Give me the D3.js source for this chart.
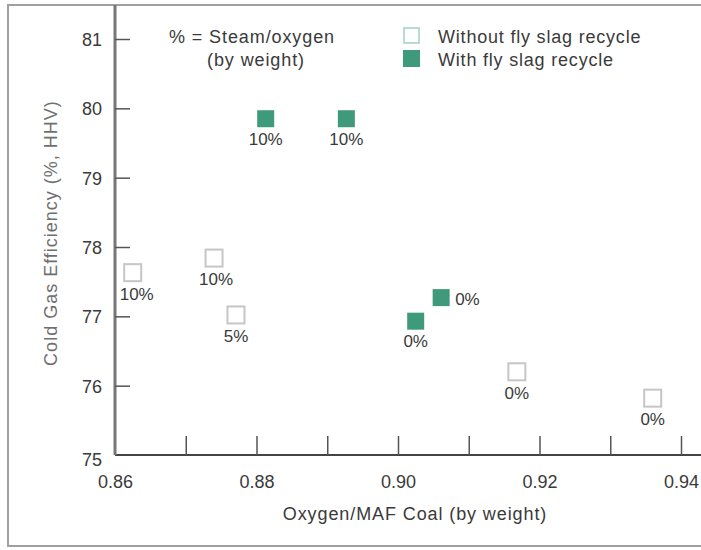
<!DOCTYPE html>
<html>
<head>
<meta charset="utf-8">
<script src="https://cdn.jsdelivr.net/npm/d3@7"></script>
<style>
  html, body { margin: 0; padding: 0; background: #fff; }
  text { font-family: "Liberation Sans", Arial, Helvetica, sans-serif; }
</style>
</head>
<body>
<svg id="chart" width="701" height="550"></svg>
<script>
// Oxygen/MAF coal ratio vs. cold gas efficiency
const withoutX = [0.8625, 0.874, 0.8771, 0.9168, 0.936];
const withoutY = [77.63, 77.84, 77.02, 76.2, 75.82];
const withoutLabels = ["10%", "10%", "5%", "0%", "0%"];

const withX = [0.8813, 0.8927, 0.9061, 0.9025];
const withY = [79.85, 79.85, 77.27, 76.93];
const withLabels = ["10%", "10%", "0%", "0%"];

const xTicks = [0.86, 0.87, 0.88, 0.89, 0.90, 0.91, 0.92, 0.93, 0.94];
const xTickLabels = ["0.86", "", "0.88", "", "0.90", "", "0.92", "", "0.94"];
const yTicks = [75, 76, 77, 78, 79, 80, 81];

const legendItems = ["Without fly slag recycle", "With fly slag recycle"];

const svg = d3.select("#chart");
const green = "#3f9a7b";
const hollowStroke = "#c6c6c6";
const textColor = "#3a3a3a";

const x = d3.scaleLinear().domain([0.86, 0.94]).range([115, 681]);
const y = d3.scaleLinear().domain([75, 81]).range([455, 39]);

// outer frame
svg.append("rect")
  .attr("x", 8).attr("y", 5).attr("width", 710).attr("height", 541)
  .attr("fill", "none").attr("stroke", "#a0a0a0").attr("stroke-width", 2);

// x axis: ticks point up into the plot
const xAxis = d3.axisBottom(x).tickValues(xTicks).tickSize(-19).tickSizeOuter(0)
  .tickFormat((d, i) => xTickLabels[i]);
const gx = svg.append("g").attr("transform", "translate(0,455)").call(xAxis);
gx.select(".domain").attr("stroke", "#444").attr("stroke-width", 2)
  .attr("d", "M115,0H701");
gx.selectAll(".tick line").attr("stroke", "#555").attr("stroke-width", 1.5)
  .filter(d => d === 0.86).remove();
gx.selectAll(".tick text").attr("fill", textColor).attr("font-size", 18)
  .attr("dy", 0).attr("y", 33).style("font-family", '"Liberation Sans", Arial, sans-serif');

// y axis: ticks point right into the plot
const yAxis = d3.axisLeft(y).tickValues(yTicks).tickSize(-15).tickSizeOuter(0)
  .tickFormat(d3.format("d"));
const gy = svg.append("g").attr("transform", "translate(115,0)").call(yAxis);
gy.select(".domain").attr("stroke", "#777").attr("stroke-width", 3)
  .attr("d", "M0,5V455");
gy.selectAll(".tick line").attr("stroke", "#555").attr("stroke-width", 1.5)
  .filter(d => d === 75).remove();
gy.selectAll(".tick text").attr("fill", textColor).attr("font-size", 18)
  .attr("x", -13).attr("dy", "0.36em").style("font-family", '"Liberation Sans", Arial, sans-serif');
gy.selectAll(".tick").filter(d => d === 75).select("text").attr("dy", "0.6em");

// axis titles
svg.append("text")
  .attr("x", 415).attr("y", 520).attr("text-anchor", "middle")
  .attr("font-size", 18).attr("letter-spacing", 0.9).attr("fill", textColor)
  .text("Oxygen/MAF Coal (by weight)");

svg.append("text")
  .attr("transform", "translate(57,233) rotate(-90)")
  .attr("text-anchor", "middle")
  .attr("font-size", 18).attr("letter-spacing", 1).attr("fill", "#6f6f6f")
  .text("Cold Gas Efficiency (%, HHV)");

// note
svg.append("text")
  .attr("x", 252).attr("y", 43).attr("text-anchor", "middle")
  .attr("font-size", 18).attr("letter-spacing", 0.9).attr("fill", textColor)
  .text("% = Steam/oxygen");
svg.append("text")
  .attr("x", 256).attr("y", 66).attr("text-anchor", "middle")
  .attr("font-size", 18).attr("letter-spacing", 0.9).attr("fill", textColor)
  .text("(by weight)");

const size = 17;

// points without fly slag recycle (open squares)
const withoutPts = withoutX.map((v, i) => ({ x: v, y: withoutY[i], label: withoutLabels[i] }));
svg.append("g").selectAll("rect").data(withoutPts).join("rect")
  .attr("x", d => x(d.x) - size / 2).attr("y", d => y(d.y) - size / 2)
  .attr("width", size).attr("height", size)
  .attr("fill", "#fff").attr("stroke", hollowStroke).attr("stroke-width", 2);

// points with fly slag recycle (filled squares)
const withPts = withX.map((v, i) => ({ x: v, y: withY[i], label: withLabels[i] }));
svg.append("g").selectAll("rect").data(withPts).join("rect")
  .attr("x", d => x(d.x) - size / 2).attr("y", d => y(d.y) - size / 2)
  .attr("width", size).attr("height", size)
  .attr("fill", green);

// value labels: below each marker, except the upper 0% recycle point sits to the right
const labelShiftX = [4, 2, 0, 0, 0];
const labelG = svg.append("g").attr("font-size", 17).attr("fill", textColor);
labelG.selectAll("text.wo").data(withoutPts).join("text").attr("class", "wo")
  .attr("x", (d, i) => x(d.x) + labelShiftX[i]).attr("y", d => y(d.y) + 27)
  .attr("text-anchor", "middle").text(d => d.label);
labelG.selectAll("text.wi").data(withPts).join("text").attr("class", "wi")
  .attr("x", (d, i) => i === 2 ? x(d.x) + 14 : x(d.x))
  .attr("y", (d, i) => i === 2 ? y(d.y) + 7 : y(d.y) + 26)
  .attr("text-anchor", (d, i) => i === 2 ? "start" : "middle")
  .text(d => d.label);

// legend
const legend = svg.append("g").attr("transform", "translate(403,0)");
legend.append("rect").attr("x", 1).attr("y", 28).attr("width", 15).attr("height", 15)
  .attr("fill", "#fff").attr("stroke", "#b6ddd0").attr("stroke-width", 2);
legend.append("rect").attr("x", 0).attr("y", 50).attr("width", 17).attr("height", 17)
  .attr("fill", green);
legend.selectAll("text").data(legendItems).join("text")
  .attr("x", 35).attr("y", (d, i) => 43 + i * 23)
  .attr("font-size", 18).attr("letter-spacing", 0.8).attr("fill", textColor)
  .text(d => d);
</script>
</body>
</html>
